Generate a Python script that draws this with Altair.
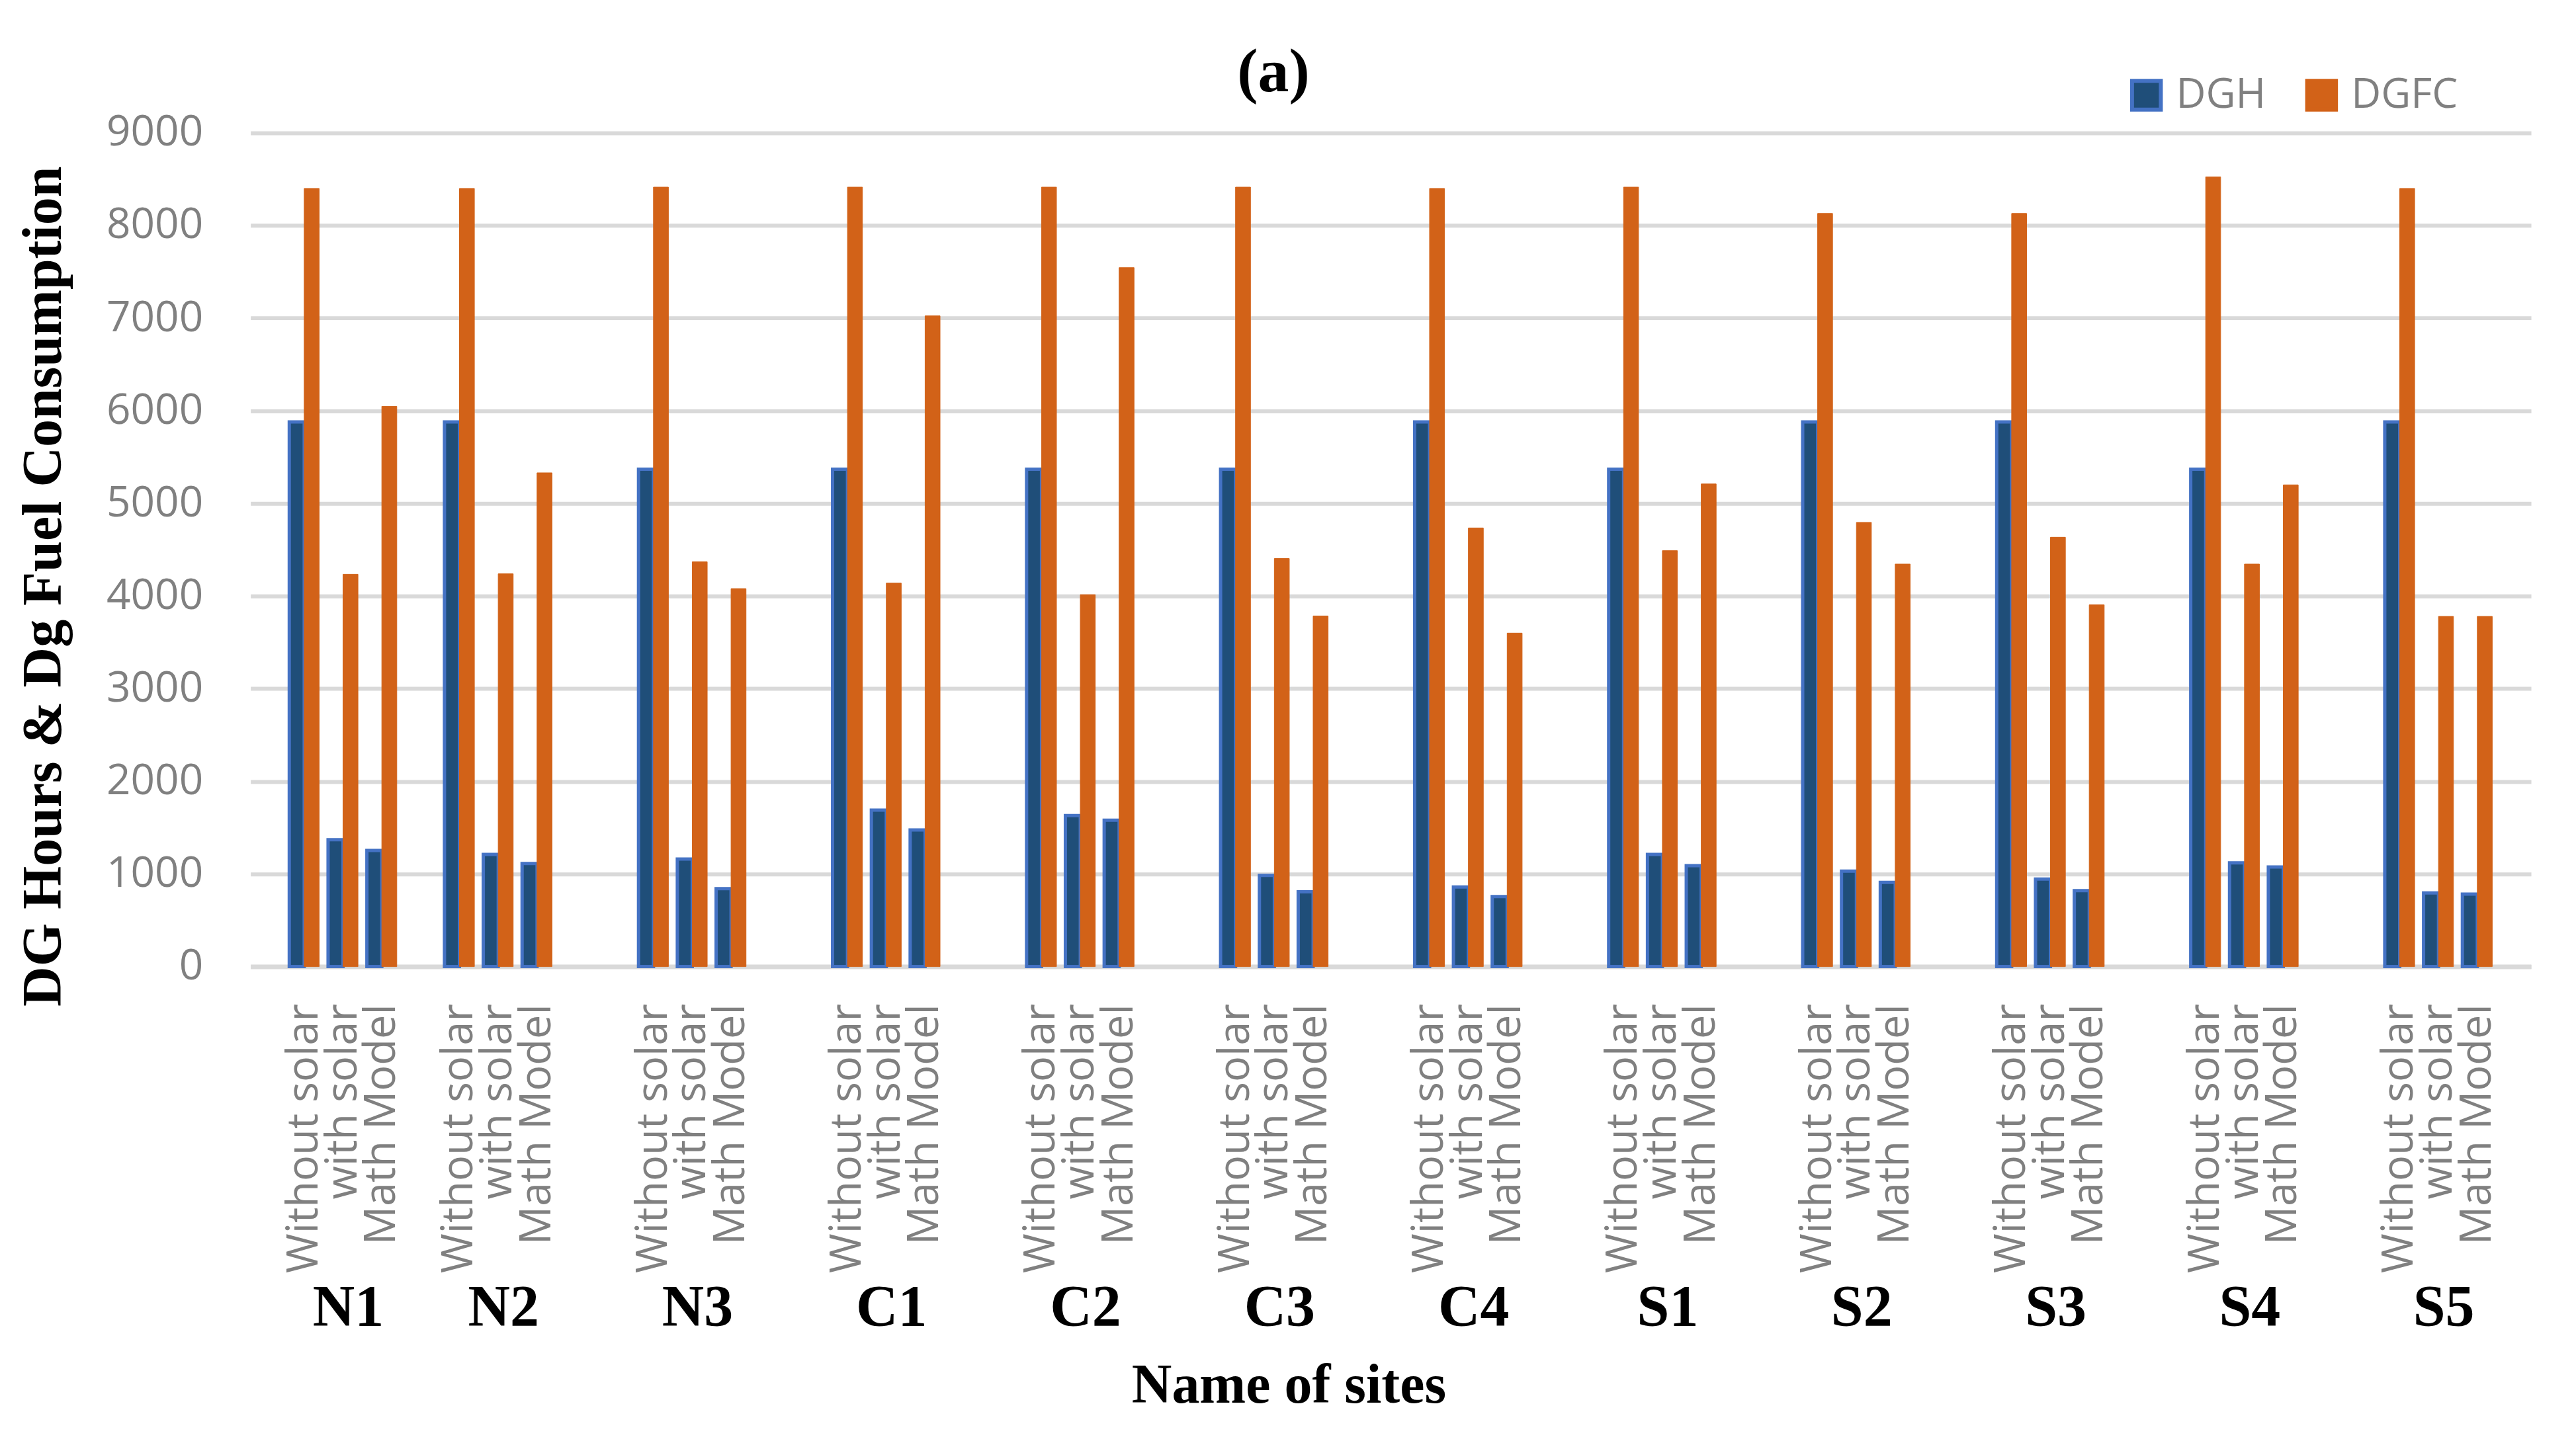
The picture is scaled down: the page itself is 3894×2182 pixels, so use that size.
import altair as alt
import pandas as pd

sites = ["N1", "N2", "N3", "C1", "C2", "C3", "C4", "S1", "S2", "S3", "S4", "S5"]
scenarios = ["Without solar", "with solar", "Math Model"]
series_names = ["DGH", "DGFC"]

dgh_without = [5880, 5880, 5370, 5370, 5370, 5370, 5880, 5370, 5880, 5880, 5370, 5880]
dgfc_without = [8400, 8400, 8414, 8414, 8414, 8414, 8400, 8414, 8130, 8130, 8525, 8400]
dgh_with = [1370, 1210, 1160, 1690, 1630, 985, 860, 1210, 1030, 945, 1120, 795]
dgfc_with = [4235, 4240, 4370, 4140, 4015, 4405, 4735, 4490, 4795, 4635, 4345, 3780]
dgh_math = [1254, 1112, 842, 1475, 1580, 808, 755, 1090, 910, 820, 1076, 782]
dgfc_math = [6048, 5330, 4080, 7025, 7545, 3785, 3600, 5210, 4345, 3905, 5200, 3780]

dgh = [dgh_without, dgh_with, dgh_math]
dgfc = [dgfc_without, dgfc_with, dgfc_math]

# empty category slots before each site group (as in the original chart)
gaps_before = [1, 1, 2, 2, 2, 2, 2, 2, 2, 2, 2, 2]

slots, rows, site_rows = [], [], []
b = 0
for i, s in enumerate(sites):
    for _ in range(gaps_before[i]):
        slots.append(f"b{b}|")
        b += 1
    for j, sc in enumerate(scenarios):
        key = f"{s}|{sc}"
        slots.append(key)
        rows.append({"slot": key, "series": "DGH", "value": dgh[j][i]})
        rows.append({"slot": key, "series": "DGFC", "value": dgfc[j][i]})
    site_rows.append({"slot": f"{s}|{scenarios[1]}", "site": s})
slots.append(f"b{b}|")

df = pd.DataFrame(rows)
site_df = pd.DataFrame(site_rows)
title_df = pd.DataFrame({"t": ["(a)"]})

GRAY = "#808080"
GRID = "#d9d9d9"
SANS = "Open Sans"
SERIF = "Liberation Serif"

xscale = alt.Scale(domain=slots, paddingInner=0.23, paddingOuter=0)

leg = alt.Legend(
    title=None, orient="none", legendX=2838, legendY=-88, direction="horizontal",
    symbolType="square", symbolSize=1900, symbolStrokeWidth=6,
    labelFont=SANS, labelFontSize=62, labelColor=GRAY, labelOffset=14,
    labelLimit=600, columnPadding=50,
)

bars = alt.Chart(df).mark_bar().encode(
    x=alt.X(
        "slot:N", scale=xscale, sort=slots,
        axis=alt.Axis(
            title="Name of sites", titleFont=SERIF, titleFontWeight="bold",
            titleFontSize=84, titleColor="black", titleX=1571, titleY=660,
            titleAlign="center", titleBaseline="alphabetic",
            labelExpr="split(datum.value, '|')[1]", labelAngle=-90,
            labelFont=SANS, labelFontSize=65, labelColor=GRAY, labelPadding=56,
            labelLimit=2000, labelOverlap=False, ticks=False,
            domainColor=GRID, domainWidth=7, grid=False,
        ),
    ),
    xOffset=alt.XOffset("series:N", sort=series_names, scale=alt.Scale(domain=series_names)),
    y=alt.Y(
        "value:Q", scale=alt.Scale(domain=[0, 9000], nice=False),
        axis=alt.Axis(
            title="DG Hours & Dg Fuel Consumption", titleFont=SERIF,
            titleFontWeight="bold", titleFontSize=84, titleColor="black",
            titleX=-312, titleY=686, titleAlign="center", titleBaseline="middle",
            titleAngle=-90,
            values=list(range(0, 9001, 1000)), format="d",
            labelFont=SANS, labelFontSize=64, labelColor=GRAY, labelPadding=72,
            ticks=False, domain=False, gridColor=GRID, gridWidth=6,
        ),
    ),
    fill=alt.Fill("series:N", sort=series_names,
                  scale=alt.Scale(domain=series_names, range=["#1F4E79", "#D26218"]),
                  legend=leg),
    stroke=alt.Stroke("series:N", sort=series_names,
                      scale=alt.Scale(domain=series_names, range=["#4472C4", "#D26218"]),
                      legend=leg),
    strokeWidth=alt.condition(alt.datum.series == "DGH", alt.value(5), alt.value(1)),
)

site_labels = alt.Chart(site_df).mark_text(
    font=SERIF, fontWeight="bold", fontSize=88, color="black",
    baseline="alphabetic", align="center", dx=8,
).encode(
    x=alt.X("slot:N", scale=xscale, sort=slots),
    y=alt.value(1805),
    text="site:N",
)

title_mark = alt.Chart(title_df).mark_text(
    font=SERIF, fontWeight="bold", fontSize=94, color="black",
    baseline="alphabetic", align="center",
).encode(
    x=alt.value(1548),
    y=alt.value(-63),
    text="t:N",
)

chart = alt.layer(bars, site_labels, title_mark).properties(
    width=3451, height=1262,
    padding={"left": 371, "top": 192, "right": 60, "bottom": 700},
    autosize=alt.AutoSizeParams(type="none"),
    background="white",
).configure_view(stroke=None)

chart.save("out.html", embed_options={"renderer": "svg", "actions": False})
